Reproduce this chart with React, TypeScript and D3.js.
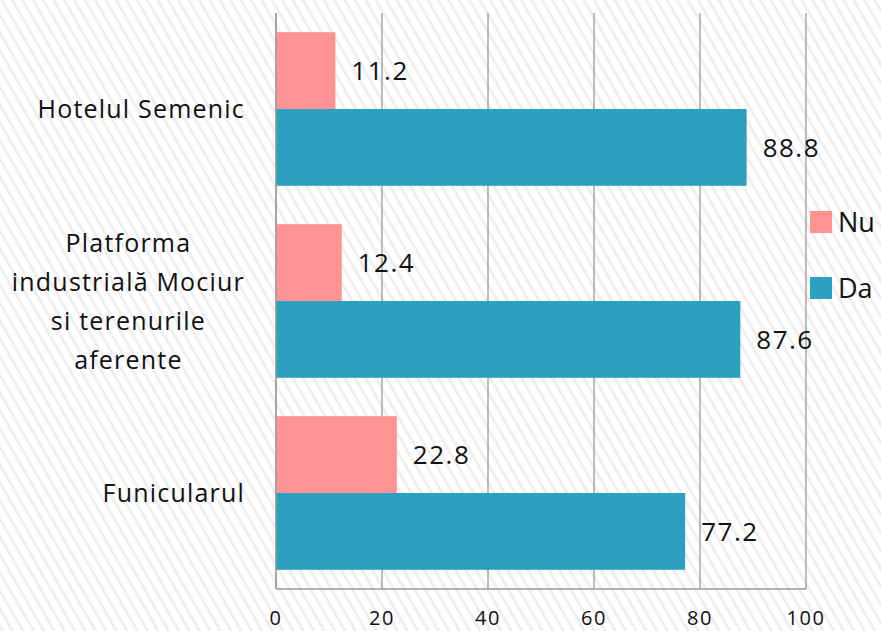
import React, { useEffect, useRef } from "react";
import * as d3 from "d3";

const categories = ["Hotelul Semenic", "Platforma industrială Mociur si terenurile aferente", "Funicularul"];
const categoryLines = [["Hotelul Semenic"], ["Platforma", "industrială Mociur", "si terenurile", "aferente"], ["Funicularul"]];
const seriesNames = ["Nu", "Da"];
const nuValues = [11.2, 12.4, 22.8];
const daValues = [88.8, 87.6, 77.2];
const xTicks = [0, 20, 40, 60, 80, 100];
const colors = ["#FF9393", "#2BA1BF"];

const W = 881, H = 631;
const M = { left: 276, right: 806, top: 13, bottom: 589 };

export default function App() {
  const ref = useRef<SVGSVGElement>(null);
  useEffect(() => {
    const svg = d3.select(ref.current);
    svg.selectAll("*").remove();
    const defs = svg.append("defs");
    const pat = defs.append("pattern").attr("id", "stripes").attr("patternUnits", "userSpaceOnUse")
      .attr("width", 9).attr("height", 9).attr("patternTransform", "rotate(-30)");
    pat.append("rect").attr("width", 9).attr("height", 9).attr("fill", "#ffffff");
    pat.append("rect").attr("width", 3).attr("height", 9).attr("fill", "#efefef");
    svg.append("rect").attr("width", W).attr("height", H).attr("fill", "url(#stripes)");

    const x = d3.scaleLinear().domain([0, 100]).range([M.left, M.right]);
    const y0 = d3.scaleBand().domain(categories).range([M.top, M.bottom]).paddingInner(0.2).paddingOuter(0.1);
    const y1 = d3.scaleBand().domain(seriesNames).range([0, y0.bandwidth()]);

    // gridlines
    svg.append("g").selectAll("line").data(xTicks).join("line")
      .attr("x1", d => x(d)).attr("x2", d => x(d)).attr("y1", M.top).attr("y2", M.bottom)
      .attr("stroke", "#9a9a9a").attr("stroke-width", 1.3);
    svg.append("line").attr("x1", M.left).attr("x2", M.right).attr("y1", M.bottom).attr("y2", M.bottom)
      .attr("stroke", "#9a9a9a").attr("stroke-width", 1.3);

    const series = [nuValues, daValues];
    series.forEach((vals, si) => {
      const g = svg.append("g");
      g.selectAll("rect").data(vals).join("rect")
        .attr("x", x(0)).attr("y", (d, i) => (y0(categories[i]) as number) + (y1(seriesNames[si]) as number))
        .attr("width", d => x(d) - x(0)).attr("height", y1.bandwidth()).attr("fill", colors[si]);
      g.selectAll("text").data(vals).join("text")
        .attr("x", d => x(d) + 16)
        .attr("y", (d, i) => (y0(categories[i]) as number) + (y1(seriesNames[si]) as number) + y1.bandwidth() / 2)
        .attr("dy", "0.36em")
        .attr("font-family", "'Open Sans', sans-serif").attr("font-size", 26).attr("letter-spacing", 1.5)
        .attr("fill", "#111").text(d => d.toFixed(1));
    });
    svg.append("line").attr("x1", M.left).attr("x2", M.left).attr("y1", M.top).attr("y2", M.bottom)
      .attr("stroke", "#9a9a9a").attr("stroke-width", 1.3);

    // x tick labels
    svg.append("g").selectAll("text").data(xTicks).join("text")
      .attr("x", d => x(d)).attr("y", 625).attr("text-anchor", "middle")
      .attr("font-family", "'Open Sans', sans-serif").attr("font-size", 20).attr("letter-spacing", 1.5)
      .attr("fill", "#111").text(d => String(d));

    // category labels
    const lineH = 39;
    categoryLines.forEach((lines, ci) => {
      const cy = (y0(categories[ci]) as number) + y0.bandwidth() / 2;
      const g = svg.append("g");
      const texts = lines.map((ln, li) => g.append("text")
        .attr("y", cy + (li - (lines.length - 1) / 2) * lineH).attr("dy", "0.36em")
        .attr("text-anchor", "middle")
        .attr("font-family", "'Open Sans', sans-serif").attr("font-size", 25).attr("letter-spacing", 1.2)
        .attr("fill", "#111").text(ln));
      const widths = texts.map(t => (t.node() as SVGTextElement).getComputedTextLength());
      const maxW = Math.max(...widths);
      const center = 245 - maxW / 2;
      texts.forEach(t => t.attr("x", center));
    });

    // legend
    const leg = [{ name: "Nu", y: 222 }, { name: "Da", y: 288 }];
    leg.forEach((l, i) => {
      svg.append("rect").attr("x", 810).attr("y", l.y - 11).attr("width", 22).attr("height", 22).attr("fill", colors[i]);
      svg.append("text").attr("x", 838).attr("y", l.y).attr("dy", "0.36em")
        .attr("font-family", "'Open Sans', sans-serif").attr("font-size", 27).attr("fill", "#111").text(l.name);
    });
  }, []);
  return <svg ref={ref} width={W} height={H} style={{ display: "block", position: "absolute", left: 0, top: 0 }} />;
}
